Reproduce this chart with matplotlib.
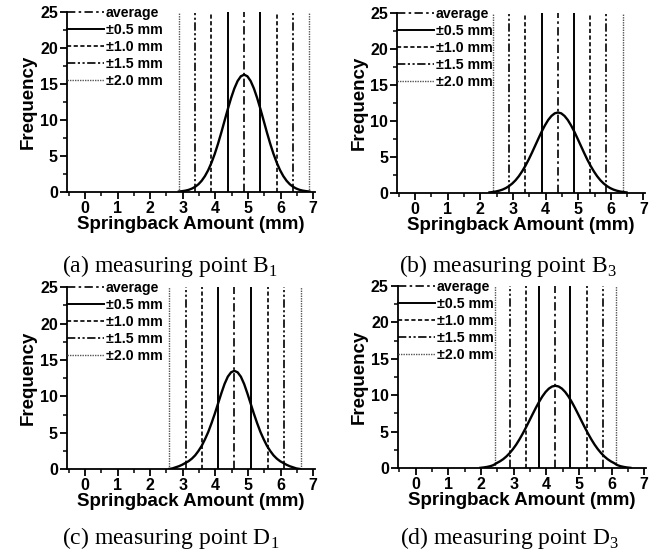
import matplotlib
matplotlib.use('Agg')
import matplotlib.pyplot as plt
from matplotlib.lines import Line2D
from matplotlib.ticker import MultipleLocator

plt.rcParams['font.family'] = ['Liberation Sans', 'DejaVu Sans']
plt.rcParams['mathtext.fontset'] = 'custom'
plt.rcParams['mathtext.rm'] = 'Liberation Serif'

# fitted distribution curves (springback mm, frequency)
x_a = [2.88, 2.98, 3.08, 3.18, 3.28, 3.38, 3.48, 3.58, 3.68, 3.78, 3.88, 3.98, 4.08, 4.18,
       4.28, 4.38, 4.48, 4.58, 4.68, 4.78, 4.88, 4.98, 5.08, 5.18, 5.28, 5.38, 5.48, 5.58,
       5.68, 5.78, 5.88, 5.98, 6.08, 6.18, 6.28, 6.38, 6.48, 6.58, 6.68, 6.78, 6.88]
y_a = [0.06, 0.11, 0.18, 0.29, 0.47, 0.72, 1.07, 1.56, 2.21, 3.04, 4.07, 5.29, 6.70, 8.25,
       9.89, 11.52, 13.05, 14.38, 15.42, 16.08, 16.30, 16.08, 15.42, 14.38, 13.05, 11.52, 9.89, 8.25,
       6.70, 5.29, 4.07, 3.04, 2.21, 1.56, 1.07, 0.72, 0.47, 0.29, 0.18, 0.11, 0.06]

x_b = [2.28, 2.38, 2.48, 2.58, 2.68, 2.78, 2.88, 2.98, 3.08, 3.18, 3.28, 3.38, 3.48, 3.58,
       3.68, 3.78, 3.88, 3.98, 4.08, 4.18, 4.28, 4.38, 4.48, 4.58, 4.68, 4.78, 4.88, 4.98,
       5.08, 5.18, 5.28, 5.38, 5.48, 5.58, 5.68, 5.78, 5.88, 5.98, 6.08, 6.18, 6.28, 6.38, 6.48]
y_b = [0.09, 0.14, 0.22, 0.33, 0.48, 0.69, 0.97, 1.33, 1.78, 2.34, 3.01, 3.78, 4.64, 5.59,
       6.58, 7.57, 8.54, 9.41, 10.16, 10.72, 11.08, 11.20, 11.08, 10.72, 10.16, 9.41, 8.54, 7.57,
       6.58, 5.59, 4.64, 3.78, 3.01, 2.34, 1.78, 1.33, 0.97, 0.69, 0.48, 0.33, 0.22, 0.14, 0.09]

x_c = [2.58, 2.68, 2.78, 2.88, 2.98, 3.08, 3.18, 3.28, 3.38, 3.48, 3.58, 3.68, 3.78, 3.88,
       3.98, 4.08, 4.18, 4.28, 4.38, 4.48, 4.58, 4.68, 4.78, 4.88, 4.98, 5.08, 5.18, 5.28,
       5.38, 5.48, 5.58, 5.68, 5.78, 5.88, 5.98, 6.08, 6.18, 6.28, 6.38, 6.48, 6.58]
y_c = [0.03, 0.10, 0.25, 0.40, 0.60, 0.85, 1.10, 1.45, 1.90, 2.50, 3.20, 4.10, 5.10, 6.30,
       7.60, 9.00, 10.40, 11.70, 12.70, 13.30, 13.50, 13.30, 12.70, 11.70, 10.40, 9.00, 7.60, 6.30,
       5.10, 4.10, 3.20, 2.50, 1.90, 1.45, 1.10, 0.85, 0.60, 0.40, 0.25, 0.10, 0.03]

x_d = [1.98, 2.08, 2.18, 2.28, 2.38, 2.48, 2.58, 2.68, 2.78, 2.88, 2.98, 3.08, 3.18, 3.28,
       3.38, 3.48, 3.58, 3.68, 3.78, 3.88, 3.98, 4.08, 4.18, 4.28, 4.38, 4.48, 4.58, 4.68,
       4.78, 4.88, 4.98, 5.08, 5.18, 5.28, 5.38, 5.48, 5.58, 5.68, 5.78, 5.88, 5.98, 6.08,
       6.18, 6.28, 6.38, 6.48, 6.58]
y_d = [0.03, 0.08, 0.15, 0.25, 0.40, 0.68, 0.92, 1.22, 1.60, 2.06, 2.60, 3.23, 3.95, 4.74,
       5.59, 6.48, 7.38, 8.26, 9.09, 9.83, 10.45, 10.91, 11.20, 11.30, 11.20, 10.91, 10.45, 9.83,
       9.09, 8.26, 7.38, 6.48, 5.59, 4.74, 3.95, 3.23, 2.60, 2.06, 1.60, 1.22, 0.92, 0.68,
       0.40, 0.25, 0.15, 0.08, 0.03]

# average line and tolerance band limits (±0.5, ±1.0, ±1.5, ±2.0 mm)
avg_a, bounds_a = 4.88, [[4.38, 5.38], [3.88, 5.88], [3.38, 6.38], [2.88, 6.88]]
avg_b, bounds_b = 4.37, [[3.875, 4.87], [3.38, 5.36], [2.89, 5.85], [2.40, 6.37]]
avg_c, bounds_c = 4.58, [[4.09, 5.09], [3.58, 5.60], [3.09, 6.11], [2.59, 6.62]]
avg_d, bounds_d = 4.28, [[3.79, 4.74], [3.38, 5.26], [2.88, 5.73], [2.44, 6.15]]

labels = ['average', '±0.5 mm', '±1.0 mm', '±1.5 mm', '±2.0 mm']
captions = ['(a) measuring point B$_\\mathrm{1}$', '(b) measuring point B$_\\mathrm{3}$',
            '(c) measuring point D$_\\mathrm{1}$', '(d) measuring point D$_\\mathrm{3}$']

styles = [dict(color='black', lw=1.2, ls=(0, (5, 2, 1.5, 2))),
          dict(color='black', lw=1.4, ls='-'),
          dict(color='black', lw=1.2, ls=(0, (2.5, 1.5))),
          dict(color='black', lw=1.2, ls=(0, (5, 1.5, 1.3, 1.5, 1.3, 1.5))),
          dict(color='#555555', lw=1.0, ls=(0, (1, 0.8)))]

fig = plt.figure(figsize=(6.63, 5.5), dpi=100)
positions = [[0.101, 0.651, 0.374, 0.327], [0.599, 0.649, 0.374, 0.327],
             [0.101, 0.147, 0.374, 0.331], [0.600, 0.149, 0.374, 0.331]]
curves = [(x_a, y_a), (x_b, y_b), (x_c, y_c), (x_d, y_d)]
avgs = [avg_a, avg_b, avg_c, avg_d]
bounds = [bounds_a, bounds_b, bounds_c, bounds_d]
cap_pos = [(0.256, 0.516), (0.766, 0.516), (0.258, 0.022), (0.768, 0.022)]

for i in range(4):
    ax = fig.add_axes(positions[i])
    ax.axvline(avgs[i], **styles[0])
    for k, (lo, hi) in enumerate(bounds[i]):
        ax.axvline(lo, **styles[k + 1])
        ax.axvline(hi, **styles[k + 1])
    ax.plot(curves[i][0], curves[i][1], color='black', lw=1.7)

    ax.set_xlim(-0.55, 7.05)
    ax.set_ylim(0, 25)
    ax.spines['top'].set_visible(False)
    ax.spines['right'].set_visible(False)
    for s in ['left', 'bottom']:
        ax.spines[s].set_linewidth(1.3)
    ax.xaxis.set_major_locator(MultipleLocator(1))
    ax.xaxis.set_minor_locator(MultipleLocator(0.5))
    ax.yaxis.set_major_locator(MultipleLocator(5))
    ax.yaxis.set_minor_locator(MultipleLocator(2.5))
    ax.tick_params(which='major', direction='out', length=5, width=1.3, labelsize=11.5, pad=1.5)
    ax.tick_params(which='minor', direction='out', length=3, width=1.1)
    for lab in ax.get_xticklabels() + ax.get_yticklabels():
        lab.set_fontweight('bold')
    ax.set_xlabel('Springback Amount (mm)', fontsize=13.5, fontweight='bold', labelpad=0)
    ax.set_ylabel('Frequency', fontsize=13.5, fontweight='bold', labelpad=2)

    handles = [Line2D([], [], **st) for st in styles]
    ax.legend(handles, labels, loc='upper left', bbox_to_anchor=(0, 1.035), frameon=False,
              borderpad=0, borderaxespad=0, handlelength=2.6, handletextpad=0.15,
              labelspacing=0.22, prop=dict(weight='bold', size=10.2))

    fig.text(cap_pos[i][0], cap_pos[i][1], captions[i], ha='center', va='center',
             fontsize=17, family='Liberation Serif')

fig.savefig('out.png', dpi=100)
